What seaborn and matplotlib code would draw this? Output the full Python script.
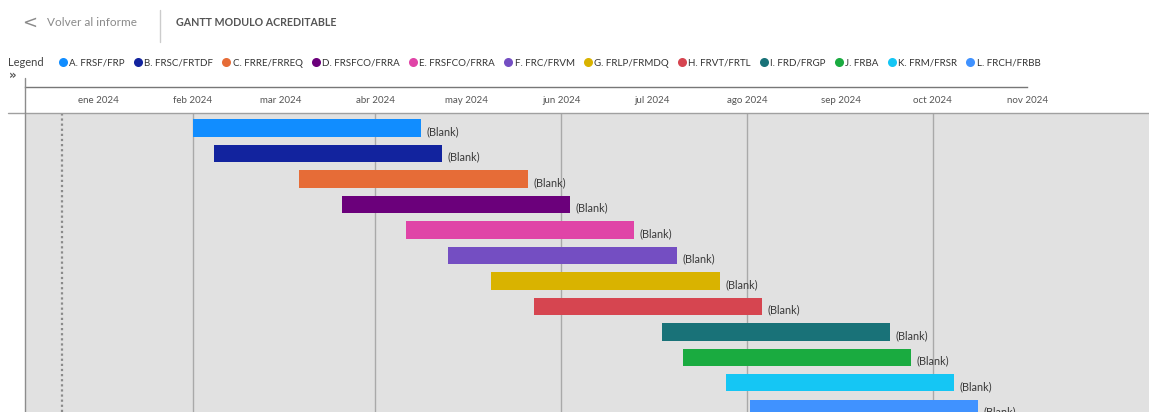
import numpy as np
import pandas as pd
import matplotlib
matplotlib.use("Agg")
import matplotlib.pyplot as plt
import matplotlib.dates as mdates
from matplotlib.lines import Line2D
import seaborn as sns

# ---------------- data ----------------
tasks = ["A. FRSF/FRP", "B. FRSC/FRTDF", "C. FRRE/FRREQ", "D. FRSFCO/FRRA",
         "E. FRSFCO/FRRA", "F. FRC/FRVM", "G. FRLP/FRMDQ", "H. FRVT/FRTL",
         "I. FRD/FRGP", "J. FRBA", "K. FRM/FRSR", "L. FRCH/FRBB"]
start_dates = ["2024-02-01", "2024-02-08", "2024-03-07", "2024-03-21",
               "2024-04-11", "2024-04-25", "2024-05-09", "2024-05-23",
               "2024-07-04", "2024-07-11", "2024-07-25", "2024-08-02"]
end_dates = ["2024-04-16", "2024-04-23", "2024-05-21", "2024-06-04",
             "2024-06-25", "2024-07-09", "2024-07-23", "2024-08-06",
             "2024-09-17", "2024-09-24", "2024-10-08", "2024-10-16"]
bar_labels = ["(Blank)"] * 12
colors = ["#118DFF", "#12239E", "#E66C37", "#6B007B", "#E044A7", "#744EC2",
          "#D9B300", "#D64550", "#197278", "#1AAB40", "#15C6F4", "#4092FF"]
month_ticks = ["2024-01-01", "2024-02-01", "2024-03-01", "2024-04-01",
               "2024-05-01", "2024-06-01", "2024-07-01", "2024-08-01",
               "2024-09-01", "2024-10-01", "2024-11-01"]
month_labels = ["ene 2024", "feb 2024", "mar 2024", "abr 2024", "may 2024",
                "jun 2024", "jul 2024", "ago 2024", "sep 2024", "oct 2024",
                "nov 2024"]
grid_months = ["2024-02-01", "2024-04-01", "2024-06-01", "2024-08-01",
               "2024-10-01"]
today_date = "2023-12-20"
view_start, view_end = "2023-12-08", "2024-12-11"
axis_end = "2024-11-01"

# ---------------- styling ----------------
sns.set_theme(style="white")
plt.rcParams["font.family"] = ["Lato", "DejaVu Sans"]

W, H = 1149, 412
fig = plt.figure(figsize=(W / 100, H / 100), dpi=100)
fig.patch.set_facecolor("white")


def fx(px):
    return px / W


def fy(py):
    return 1 - py / H


d2n = lambda s: mdates.date2num(pd.to_datetime(s))
start_num = np.array([d2n(s) for s in start_dates])
end_num = np.array([d2n(s) for s in end_dates])
df = pd.DataFrame({"task": tasks, "start": start_num,
                   "dur": end_num - start_num})

# main gantt axes
ax = fig.add_axes([fx(25), 0, 1 - fx(25), fy(113)])
ax.set_facecolor("#E1E1E1")
sns.barplot(data=df, x="dur", y="task", left=df["start"].to_numpy(),
            orient="h", width=0.67, errorbar=None, linewidth=0,
            color=colors[0], ax=ax)
for patch, c in zip(ax.patches, colors):
    patch.set_facecolor(c)
    patch.set_edgecolor("none")
anns = ax.bar_label(ax.containers[0], labels=bar_labels, padding=4,
                    fontsize=7.8, color="#3A3A3A")
for a in anns:
    a.xyann = (a.xyann[0], -2.5)
ax.set_xlim(d2n(view_start), d2n(view_end))
ax.set_ylim(11.14, -0.59)
ax.set_xticks([d2n(m) for m in grid_months])
ax.tick_params(axis="x", length=0, labelbottom=False)
ax.tick_params(axis="y", length=0, labelleft=False)
ax.grid(axis="x", color="#A9A9A9", lw=1)
ax.grid(axis="y", visible=False)
ax.set_xlabel("")
ax.set_ylabel("")
ax.axvline(d2n(today_date), color="#8A8A8A", lw=1.6, ls=(0, (1, 1.3)))
for s in ["top", "right", "bottom"]:
    ax.spines[s].set_visible(False)
ax.spines["left"].set_color("#8C8C8C")
ax.spines["left"].set_linewidth(1)

# top date axis
axt = fig.add_axes([fx(25), fy(87), 1 - fx(25), 1 / H])
axt.patch.set_visible(False)
axt.set_xlim(d2n(view_start), d2n(view_end))
axt.set_yticks([])
for s in ["top", "right", "left"]:
    axt.spines[s].set_visible(False)
axt.spines["bottom"].set_bounds(d2n(view_start), d2n(axis_end))
axt.spines["bottom"].set_color("#777777")
axt.spines["bottom"].set_linewidth(1)
axt.set_xticks([d2n(m) for m in month_ticks])
axt.set_xticklabels(month_labels)
axt.tick_params(axis="x", direction="out", length=3.5, width=1,
                color="#777777", labelsize=7, labelcolor="#555555", pad=3)

# figure lines
fig.add_artist(Line2D([fx(8), 1], [fy(113), fy(113)], color="#A0A0A0", lw=1))
fig.add_artist(Line2D([fx(25), fx(25)], [fy(78), fy(113)], color="#8C8C8C", lw=1))
fig.add_artist(Line2D([fx(160), fx(160)], [fy(10), fy(42)], color="#CCCCCC", lw=1))

# header
fig.text(fx(22), fy(23), "<", fontsize=13, color="#8A8A8A", va="center",
         ha="left", family="DejaVu Sans")
fig.text(fx(47), fy(23), "Volver al informe", fontsize=8.5, color="#8A8A8A",
         va="center", ha="left")
fig.text(fx(176), fy(23), "GANTT MODULO ACREDITABLE", fontsize=7.7,
         color="#555555", va="center", ha="left", weight="bold")

# legend
fig.text(fx(8), fy(62), "Legend", fontsize=8, color="#444444", va="center")
fig.text(fx(9), fy(75), "»", fontsize=8.5, color="#555555", va="center",
         ha="left", family="DejaVu Sans", weight="bold")
handles = [Line2D([], [], marker="o", ls="none", markersize=6.5,
                  markerfacecolor=c, markeredgecolor="none") for c in colors]
fig.legend(handles, tasks, ncol=12, loc="center left",
           bbox_to_anchor=(fx(58.5), fy(63)), frameon=False, fontsize=7,
           handlelength=0.9, handletextpad=0.2, columnspacing=0.9,
           borderpad=0, borderaxespad=0, labelcolor="#333333")

fig.savefig("out.png", dpi=100, facecolor="white")
